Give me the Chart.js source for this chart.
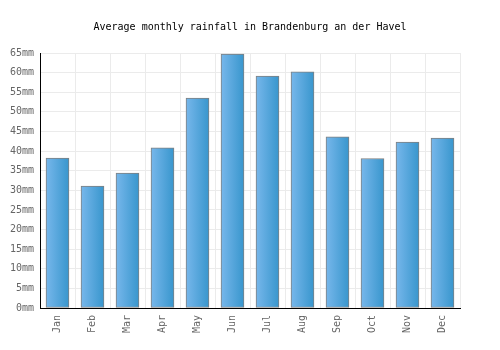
<!DOCTYPE html>
<html>
<head>
<meta charset="utf-8">
<script src="https://cdn.jsdelivr.net/npm/chart.js@4/dist/chart.umd.min.js"></script>
<style>
  html, body { margin: 0; padding: 0; background: #fff; }
  #wrap { width: 500px; height: 350px; }
</style>
</head>
<body>
<div id="wrap"><canvas id="rainChart" width="500" height="350"></canvas></div>
<script>
const months = ["Jan", "Feb", "Mar", "Apr", "May", "Jun", "Jul", "Aug", "Sep", "Oct", "Nov", "Dec"]
const rainfall = [38.2, 31.1, 34.4, 40.8, 53.5, 64.7, 59.1, 60.2, 43.6, 38.1, 42.3, 43.3]
const yMax = 65
const yStep = 5
const unit = "mm"

const font = "'DejaVu Sans Mono', 'Liberation Mono', monospace"
const barWidth = 23

function barGradient(ctx) {
  const chart = ctx.chart
  const xScale = chart.scales.x
  if (!chart.chartArea || !xScale || ctx.dataIndex === undefined) return "#55a6de"
  const cx = xScale.getPixelForValue(ctx.dataIndex)
  const half = barWidth / 2
  const g = chart.ctx.createLinearGradient(cx - half, 0, cx + half, 0)
  g.addColorStop(0, "#77b7eb")
  g.addColorStop(1, "#3896cd")
  return g
}

const ctx = document.getElementById("rainChart").getContext("2d")
new Chart(ctx, {
  type: 'bar',
  data: {
    labels: months,
    datasets: [{
      label: 'Rainfall',
      data: rainfall,
      backgroundColor: barGradient,
      borderColor: "#808080",
      borderWidth: 1,
      borderSkipped: false,
      barThickness: barWidth
    }]
  },
  options: {
    responsive: false,
    animation: false,
    layout: {
      padding: 0
    },
    plugins: {
      legend: { display: false },
      tooltip: { enabled: false },
      title: {
        display: true,
        text: "Average monthly rainfall in Brandenburg an der Havel",
        color: "#000",
        font: { family: font, size: 10, weight: 'normal' },
        padding: { top: 21, bottom: 20 }
      }
    },
    scales: {
      x: {
        offset: true,
        grid: {
          offset: true,
          color: "#ebebeb",
          drawTicks: false
        },
        border: { color: "#000", width: 1 },
        ticks: {
          color: "#666",
          font: { family: font, size: 10 },
          minRotation: 90,
          maxRotation: 90,
          padding: 7
        },
        afterFit: (scale) => { scale.height = 42 }
      },
      y: {
        min: 0,
        max: yMax,
        grid: {
          color: "#ebebeb",
          drawTicks: false
        },
        border: { color: "#000", width: 1 },
        ticks: {
          stepSize: yStep,
          color: "#666",
          font: { family: font, size: 10 },
          padding: 6,
          callback: (v) => v + unit
        },
        afterFit: (scale) => { scale.width = 40 }
      },
      // empty right-hand spacer so the title stays centred on the canvas
      spacer: {
        type: 'linear',
        position: 'right',
        grid: { display: false, drawTicks: false },
        border: { display: false },
        ticks: { display: false },
        afterFit: (scale) => { scale.width = 40 }
      }
    }
  }
})
</script>
</body>
</html>
